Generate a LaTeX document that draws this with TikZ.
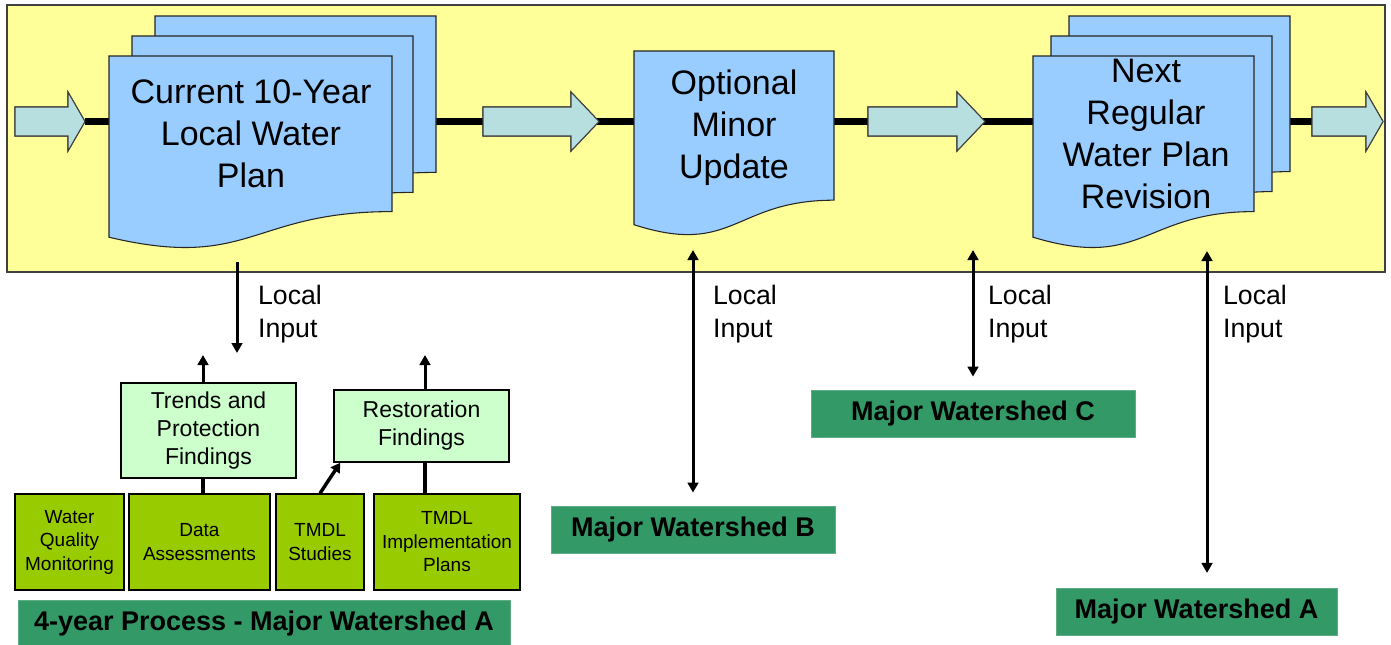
\documentclass[tikz,border=0pt]{standalone}
\usepackage{fontspec}
\setmainfont{Liberation Sans}
\usetikzlibrary{arrows.meta,calc}
\definecolor{ybg}{HTML}{FFFF99}
\definecolor{docblue}{HTML}{99CCFF}
\definecolor{tealarr}{RGB}{183,223,224}
\definecolor{lgreen}{HTML}{CCFFCC}
\definecolor{olive}{HTML}{99CC00}
\definecolor{dgreen}{HTML}{339966}
\definecolor{framegray}{HTML}{404040}
\newcommand\docpage[4]{%
  \filldraw[docstyle] (#1,#2) -- ({#1+#3},#2) -- ({#1+#3},{#2+0.802*#4})
    .. controls ({#1+0.5*#3},{#2+0.802*#4}) and ({#1+0.5*#3},{#2+1.107*#4}) ..
    (#1,{#2+0.934*#4}) -- cycle;}
\newcommand\blockarr[4]{%
  \filldraw[blockarrow] (#2,107) -- (#3,107) -- (#3,92) -- (#4,121.5) -- (#3,151)
    -- (#3,136) -- (#2,136) -- cycle;
  \coordinate (#1s) at (#2,121.5);
  \coordinate (#1t) at (#4,121.5);}
\begin{document}
\begin{tikzpicture}[x=0.75pt,y=-0.75pt,
  framebox/.style={draw=framegray,line width=1.1pt,fill=ybg,inner sep=0pt,
    minimum width=1033.5pt,minimum height=200.25pt},
  docstyle/.style={fill=docblue,draw=black!85,line width=0.8pt},
  blockarrow/.style={fill=tealarr,draw=framegray,line width=0.8pt},
  mainline/.style={line width=5.25pt,black},
  doctext/.style={align=center,inner sep=0pt,font=\fontsize{25.5}{31.5}\selectfont},
  lgbox/.style={draw=black,line width=1.1pt,fill=lgreen,align=center,inner sep=0pt,
    minimum width=131.25pt,font=\fontsize{17.25}{21}\selectfont},
  olbox/.style={draw=black,line width=1.1pt,fill=olive,align=center,inner sep=0pt,
    minimum height=72pt,font=\fontsize{14.25}{17.6}\selectfont},
  wsbox/.style={fill=dgreen,draw=dgreen!80!white,line width=0.6pt,inner sep=0pt,
    minimum height=35.25pt,font=\bfseries\fontsize{20.25}{24}\selectfont},
  inlabel/.style={align=left,inner sep=0pt,font=\fontsize{20}{24.75}\selectfont},
  varrow/.style={line width=2.25pt,-{Triangle[length=7.5pt,width=8pt]}},
  dvarrow/.style={line width=2.25pt,{Triangle[length=7.5pt,width=8pt]}-{Triangle[length=7.5pt,width=8pt]}},
  plainline/.style={line width=2.6pt}
]
\useasboundingbox (0,0) rectangle (1391,644);
\fill[white] (0,0) rectangle (1391,644);

% frame
\node[framebox] (frame) at (696,138.5) {};

% block arrows (coordinates) and main line
\blockarr{a1}{15}{68}{85}
\blockarr{a2}{483}{571}{599}
\blockarr{a3}{868}{957}{985}
\blockarr{a4}{1312}{1366}{1383}
\draw[mainline] (a1t) -- (a4s);
\blockarr{a1}{15}{68}{85}
\blockarr{a2}{483}{571}{599}
\blockarr{a3}{868}{957}{985}
\blockarr{a4}{1312}{1366}{1383}

% documents
\docpage{155}{16}{281}{195}
\docpage{132}{36}{281}{195}
\docpage{109}{56}{283}{194}
\docpage{634}{51}{200}{186}
\docpage{1069}{16}{221}{194}
\docpage{1051}{36}{221}{194}
\docpage{1033}{56}{221}{194}

\node[doctext] (doc1) at (251,134) {Current 10-Year\\Local Water\\Plan};
\node[doctext] (doc2) at (734,128) {Optional\\Minor\\Update};
\node[doctext] (doc3) at (1146,134) {Next\\Regular\\Water Plan\\Revision};

% lower boxes
\node[lgbox,minimum height=71.25pt] (trends) at (208.5,430.5) {Trends and\\Protection\\Findings};
\node[lgbox,minimum height=54pt] (restor) at (421.5,426) {Restoration\\Findings};
\node[olbox,minimum width=81.75pt] (wqm) at (69.5,542) {Water\\Quality\\Monitoring};
\node[olbox,minimum width=105.75pt] (data) at (199.5,542) {Data\\Assessments};
\node[olbox,minimum width=66pt] (tmdl) at (320,542) {TMDL\\Studies};
\node[olbox,minimum width=109.5pt] (impl) at (447,542) {TMDL\\Implementation\\Plans};
\node[wsbox,minimum width=369pt,minimum height=36pt] (fouryr) at (264,624) {4-year Process - Major Watershed A};
\node[wsbox,minimum width=213pt] (wsB) at (693,529.5) {Major Watershed B};
\node[wsbox,minimum width=243pt] (wsC) at (973,413.5) {Major Watershed C};
\node[wsbox,minimum width=210.75pt] (wsA) at (1196.5,611.5) {Major Watershed A};

% coordinates
\coordinate (inS) at (237,262);
\coordinate (inE) at (237,353);
\coordinate (up1) at (203,355);
\coordinate (up2) at (425,355);
\coordinate (bT) at (693,250);
\coordinate (cT) at (973,250);
\coordinate (aT) at (1207,251);

% connectors
\draw[varrow] (inS) -- (inE);
\draw[varrow] (trends.north -| up1) -- (up1);
\draw[varrow] (restor.north -| up2) -- (up2);
\draw[plainline] (data.north -| up1) -- (trends.south -| up1);
\draw[plainline] (impl.north -| up2) -- (restor.south -| up2);
\draw[line width=2.6pt,-{Triangle[length=7pt,width=8pt]}] (tmdl.north) -- ($(restor.south west)+(7,0)$);
\draw[dvarrow,shorten >=9.75pt] (bT) -- (wsB.north);
\draw[dvarrow,shorten >=9.75pt] (cT) -- (wsC.north);
\draw[dvarrow,shorten >=11pt] (aT) -- (aT |- wsA.north);

% labels
\node[inlabel] (li1) at (290,314) {Local\\Input};
\node[inlabel] (li2) at (745,314) {Local\\Input};
\node[inlabel] (li3) at (1020,314) {Local\\Input};
\node[inlabel] (li4) at (1255,314) {Local\\Input};
\end{tikzpicture}
\end{document}
